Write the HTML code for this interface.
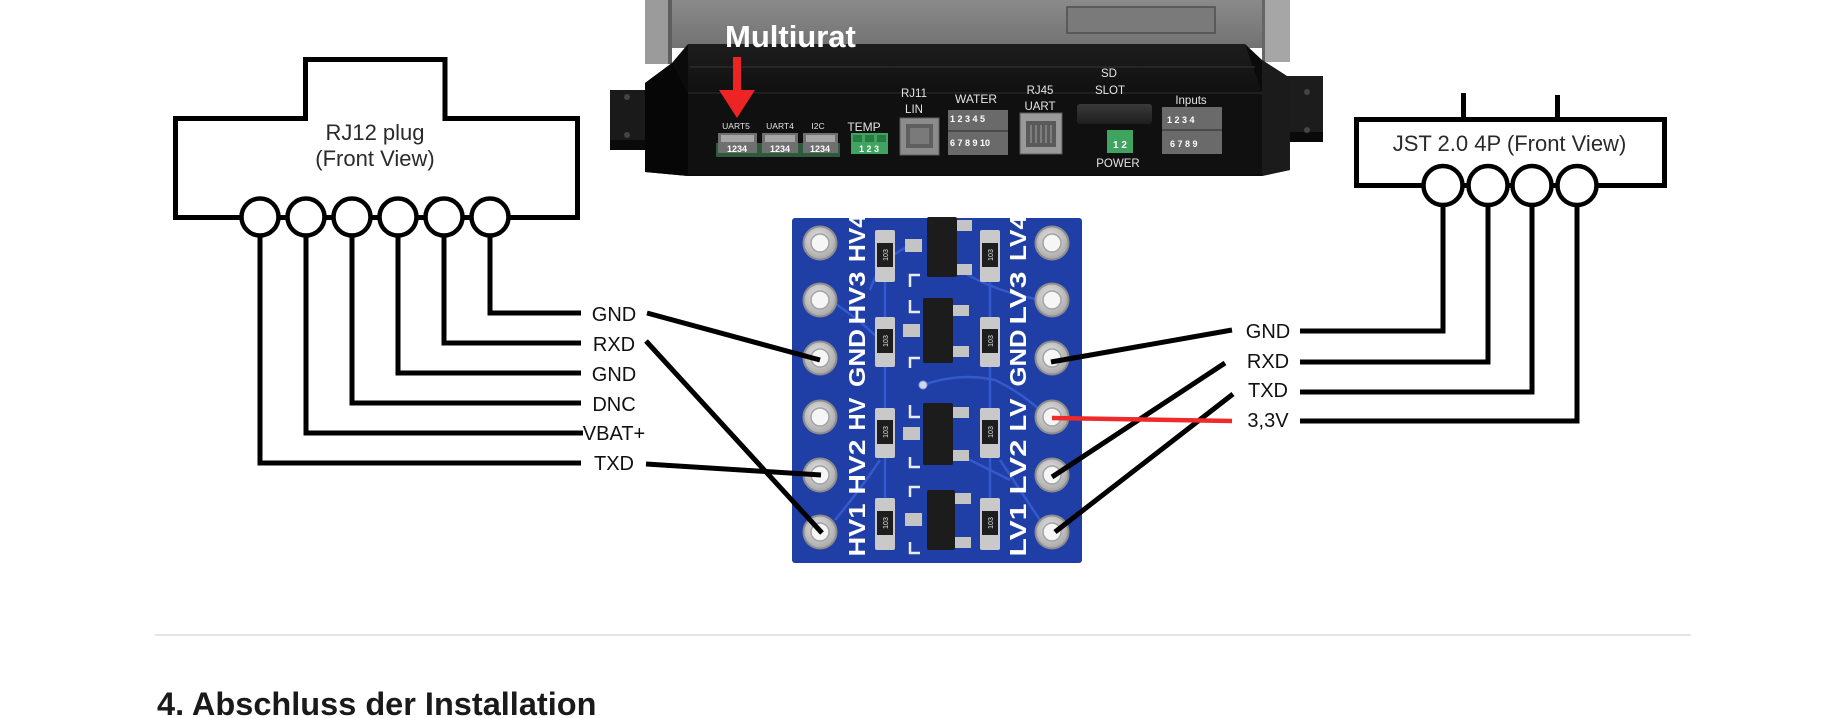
<!DOCTYPE html>
<html>
<head>
<meta charset="utf-8">
<style>
  html,body{margin:0;padding:0;background:#ffffff;}
  body{width:1840px;height:718px;overflow:hidden;}
  svg{display:block;}
  text{font-family:"Liberation Sans",Arial,sans-serif;}
</style>
</head>
<body>
<svg width="1840" height="718" viewBox="0 0 1840 718" xmlns="http://www.w3.org/2000/svg">
  <defs>
    <linearGradient id="topbody" x1="0" y1="0" x2="0" y2="1">
      <stop offset="0" stop-color="#8a8a8a"/>
      <stop offset="1" stop-color="#727272"/>
    </linearGradient>
    <linearGradient id="chamfer" x1="0" y1="0" x2="0" y2="1">
      <stop offset="0" stop-color="#1d1d1d"/>
      <stop offset="1" stop-color="#101010"/>
    </linearGradient>
    <linearGradient id="sd" x1="0" y1="0" x2="0" y2="1">
      <stop offset="0" stop-color="#3a3a3a"/>
      <stop offset="1" stop-color="#1e1e1e"/>
    </linearGradient>
    <radialGradient id="padg" cx="0.45" cy="0.4" r="0.6">
      <stop offset="0" stop-color="#e8e8e8"/>
      <stop offset="1" stop-color="#a8a8a8"/>
    </radialGradient>
  </defs>

  <!-- ================= DEVICE PHOTO ================= -->
  <!-- upper grey body -->
  <rect x="645" y="0" width="645" height="48" fill="url(#topbody)"/>
  <rect x="645" y="0" width="27" height="64" fill="#9b9b9b"/>
  <rect x="668" y="0" width="4" height="64" fill="#5e5e5e"/>
  <rect x="1262" y="0" width="28" height="62" fill="#a6a6a6"/>
  <rect x="1262" y="0" width="3" height="62" fill="#666"/>
  <rect x="1067" y="7" width="148" height="26" fill="#7a7a7a" stroke="#4e4e4e" stroke-width="1.5"/>

  <!-- flanges -->
  <rect x="610" y="90" width="40" height="60" fill="#1a1a1a"/>
  <rect x="610" y="140" width="40" height="10" fill="#0a0a0a"/>
  <circle cx="627" cy="97" r="3" fill="#444"/>
  <circle cx="627" cy="135" r="3" fill="#444"/>
  <rect x="1286" y="76" width="37" height="66" fill="#1c1c1c"/>
  <rect x="1286" y="132" width="37" height="10" fill="#0a0a0a"/>
  <circle cx="1307" cy="92" r="3" fill="#444"/>
  <circle cx="1307" cy="130" r="3" fill="#444"/>

  <!-- black base -->
  <polygon points="688,44 1245,44 1262,60 1290,78 1290,170 1262,176 688,176 645,172 645,83 672,63" fill="#0b0b0b"/>
  <polygon points="688,44 1245,44 1262,93 688,93" fill="url(#chamfer)"/>
  <line x1="690" y1="67" x2="1255" y2="67" stroke="#2c2c2c" stroke-width="1.5"/>
  <line x1="688" y1="93" x2="1262" y2="93" stroke="#252525" stroke-width="1.5"/>
  <rect x="688" y="94" width="574" height="80" fill="#101010"/>
  <polygon points="645,83 672,63 688,93 688,176 645,172" fill="#060606"/>
  <polygon points="1262,60 1290,78 1290,170 1262,176" fill="#1b1b1b"/>

  <!-- Multiurat label -->
  <text x="725" y="47" font-size="31" font-weight="bold" fill="#ffffff">Multiurat</text>

  <!-- red arrow -->
  <rect x="733" y="57" width="8" height="36" fill="#ee2424"/>
  <polygon points="719,90 755,90 737,118" fill="#ee2424"/>

  <!-- small port labels -->
  <g fill="#e4e4e4" text-anchor="middle">
    <text x="736" y="129" font-size="8.5">UART5</text>
    <text x="780" y="129" font-size="8.5">UART4</text>
    <text x="818" y="129" font-size="8.5">I2C</text>
    <text x="864" y="131" font-size="12">TEMP</text>
    <text x="914" y="97" font-size="11.5">RJ11</text>
    <text x="914" y="113" font-size="11.5">LIN</text>
    <text x="976" y="103" font-size="12">WATER</text>
    <text x="1040" y="94" font-size="11.5">RJ45</text>
    <text x="1040" y="110" font-size="11.5">UART</text>
    <text x="1109" y="77" font-size="11.5">SD</text>
    <text x="1110" y="94" font-size="11.5">SLOT</text>
    <text x="1118" y="167" font-size="11.5">POWER</text>
    <text x="1191" y="104" font-size="11.5">Inputs</text>
  </g>

  <!-- small JST connectors -->
  <rect x="716" y="143" width="124" height="14" fill="#2d5a3c"/>
  <g>
    <rect x="718" y="133" width="39" height="20" fill="#6f6f6f"/>
    <rect x="721" y="135" width="33" height="7" fill="#a5a5a5"/>
    <rect x="762" y="133" width="36" height="20" fill="#6f6f6f"/>
    <rect x="765" y="135" width="30" height="7" fill="#a5a5a5"/>
    <rect x="803" y="133" width="35" height="20" fill="#6f6f6f"/>
    <rect x="806" y="135" width="29" height="7" fill="#a5a5a5"/>
  </g>
  <g fill="#ffffff" font-size="9" font-weight="bold" text-anchor="middle">
    <text x="737" y="152">1234</text>
    <text x="780" y="152">1234</text>
    <text x="820" y="152">1234</text>
  </g>
  <!-- TEMP green -->
  <rect x="851" y="133" width="37" height="21" fill="#3fa45f"/>
  <rect x="853" y="135" width="9" height="7" fill="#2a7a45"/>
  <rect x="865" y="135" width="9" height="7" fill="#2a7a45"/>
  <rect x="877" y="135" width="9" height="7" fill="#2a7a45"/>
  <text x="869" y="152" font-size="9" font-weight="bold" fill="#fff" text-anchor="middle">1 2 3</text>
  <!-- RJ11 jack -->
  <rect x="900" y="118" width="39" height="37" fill="#8c8c8c" stroke="#5e5e5e" stroke-width="1"/>
  <rect x="906" y="124" width="27" height="24" fill="#5f5f5f"/>
  <rect x="910" y="128" width="19" height="16" fill="#7a7a7a"/>
  <!-- WATER block -->
  <rect x="948" y="110" width="60" height="45" fill="#6a6a6a"/>
  <line x1="948" y1="131" x2="1008" y2="131" stroke="#4a4a4a" stroke-width="2"/>
  <g fill="#ffffff" font-size="9" font-weight="bold">
    <text x="950" y="122">1 2 3 4 5</text>
    <text x="950" y="146">6 7 8 9 10</text>
  </g>
  <!-- RJ45 jack -->
  <rect x="1020" y="113" width="42" height="41" fill="#9a9a9a" stroke="#5a5a5a" stroke-width="1"/>
  <rect x="1026" y="121" width="30" height="26" fill="#5a5a5a"/>
  <g stroke="#8a8a8a" stroke-width="1.5">
    <line x1="1031" y1="125" x2="1031" y2="143"/>
    <line x1="1036" y1="125" x2="1036" y2="143"/>
    <line x1="1041" y1="125" x2="1041" y2="143"/>
    <line x1="1046" y1="125" x2="1046" y2="143"/>
    <line x1="1051" y1="125" x2="1051" y2="143"/>
  </g>
  <!-- SD slot -->
  <rect x="1077" y="104" width="75" height="20" rx="3" fill="url(#sd)"/>
  <!-- power green -->
  <rect x="1107" y="130" width="26" height="23" fill="#3fa45f"/>
  <text x="1120" y="148" font-size="10" font-weight="bold" fill="#fff" text-anchor="middle">1 2</text>
  <!-- Inputs block -->
  <rect x="1162" y="107" width="60" height="47" fill="#6a6a6a"/>
  <line x1="1162" y1="130" x2="1222" y2="130" stroke="#4a4a4a" stroke-width="2"/>
  <g fill="#ffffff" font-size="9" font-weight="bold">
    <text x="1167" y="123">1 2 3 4</text>
    <text x="1170" y="147">6 7 8 9</text>
  </g>

  <!-- ================= RJ12 PLUG ================= -->
  <path d="M175.5,217.5 V118.5 H305.5 V59.5 H445 V118.5 H577.5 V217.5 Z" fill="#fff" stroke="#000" stroke-width="5" stroke-linejoin="miter"/>
  <g fill="#2a2a2a" font-size="22" text-anchor="middle">
    <text x="375" y="140">RJ12 plug</text>
    <text x="375" y="166">(Front View)</text>
  </g>
  <!-- wires -->
  <g fill="none" stroke="#000" stroke-width="5" stroke-linejoin="miter">
    <path d="M490,230 V313 H581"/>
    <path d="M444,230 V343 H581"/>
    <path d="M398,230 V373 H581"/>
    <path d="M352,230 V403 H581"/>
    <path d="M306,230 V433 H583"/>
    <path d="M260,230 V463 H581"/>
  </g>
  <g fill="#fff" stroke="#000" stroke-width="4.5">
    <circle cx="260" cy="217" r="18.5"/>
    <circle cx="306" cy="217" r="18.5"/>
    <circle cx="352" cy="217" r="18.5"/>
    <circle cx="398" cy="217" r="18.5"/>
    <circle cx="444" cy="217" r="18.5"/>
    <circle cx="490" cy="217" r="18.5"/>
  </g>
  <g fill="#111" font-size="20" text-anchor="middle">
    <text x="614" y="321">GND</text>
    <text x="614" y="351">RXD</text>
    <text x="614" y="381">GND</text>
    <text x="614" y="411">DNC</text>
    <text x="614" y="440">VBAT+</text>
    <text x="614" y="470">TXD</text>
  </g>

  <!-- ================= JST 2.0 4P ================= -->
  <line x1="1463.5" y1="93" x2="1463.5" y2="120" stroke="#000" stroke-width="5"/>
  <line x1="1557.5" y1="95" x2="1557.5" y2="120" stroke="#000" stroke-width="5"/>
  <rect x="1356.5" y="119.5" width="308" height="66" fill="#fff" stroke="#000" stroke-width="5"/>
  <text x="1509.5" y="151" font-size="22" fill="#2a2a2a" text-anchor="middle">JST 2.0 4P (Front View)</text>
  <g fill="none" stroke="#000" stroke-width="5" stroke-linejoin="miter">
    <path d="M1443,200 V331 H1300"/>
    <path d="M1488,200 V362 H1300"/>
    <path d="M1532,200 V392 H1300"/>
    <path d="M1577,200 V421 H1300"/>
  </g>
  <g fill="#fff" stroke="#000" stroke-width="4.5">
    <circle cx="1443" cy="185.5" r="19.5"/>
    <circle cx="1488" cy="185.5" r="19.5"/>
    <circle cx="1532" cy="185.5" r="19.5"/>
    <circle cx="1577" cy="185.5" r="19.5"/>
  </g>
  <g fill="#111" font-size="20" text-anchor="middle">
    <text x="1268" y="338">GND</text>
    <text x="1268" y="368">RXD</text>
    <text x="1268" y="397">TXD</text>
    <text x="1268" y="427">3,3V</text>
  </g>

  <!-- ================= LEVEL SHIFTER PCB ================= -->
  <rect x="792" y="218" width="290" height="345" rx="3" fill="#1f3fa6"/>
  <!-- traces -->
  <g fill="none" stroke="#3359cc" stroke-width="2.5">
    <path d="M885,282 V317"/>
    <path d="M885,367 V408"/>
    <path d="M885,458 V498"/>
    <path d="M990,282 V317"/>
    <path d="M990,367 V408"/>
    <path d="M990,458 V498"/>
    <path d="M923,385 Q960,372 995,380 Q1020,392 1040,410"/>
    <path d="M960,270 Q990,290 1040,300"/>
    <path d="M830,300 Q860,320 880,340"/>
    <path d="M880,460 Q860,490 835,520"/>
    <path d="M1000,460 Q1020,490 1040,520"/>
    <path d="M960,455 Q990,470 1010,480"/>
    <path d="M905,248 Q880,260 870,290"/>
  </g>
  <!-- via -->
  <circle cx="923" cy="385" r="4" fill="#cfd6ea" stroke="#8da0d8" stroke-width="1"/>
  <!-- silkscreen brackets -->
  <g fill="none" stroke="#e8ecf7" stroke-width="2.5">
    <path d="M920,275 H910 V287"/>
    <path d="M910,300 V312 H920"/>
    <path d="M920,358 H910 V368"/>
    <path d="M910,405 V417 H920"/>
    <path d="M910,457 V467 H920"/>
    <path d="M920,487 H910 V497"/>
    <path d="M910,542 V553 H920"/>
  </g>
  <!-- transistors (SOT-23) -->
  <g>
    <rect x="905" y="239" width="17" height="13" fill="#c4c4c4"/>
    <rect x="956" y="220" width="16" height="11" fill="#c4c4c4"/>
    <rect x="956" y="264" width="16" height="11" fill="#c4c4c4"/>
    <rect x="927" y="217" width="30" height="60" rx="2" fill="#1c1c1c"/>

    <rect x="903" y="324" width="17" height="13" fill="#c4c4c4"/>
    <rect x="953" y="305" width="16" height="11" fill="#c4c4c4"/>
    <rect x="953" y="346" width="16" height="11" fill="#c4c4c4"/>
    <rect x="923" y="298" width="30" height="65" rx="2" fill="#1c1c1c"/>

    <rect x="903" y="427" width="17" height="13" fill="#c4c4c4"/>
    <rect x="953" y="407" width="16" height="11" fill="#c4c4c4"/>
    <rect x="953" y="450" width="16" height="11" fill="#c4c4c4"/>
    <rect x="923" y="403" width="30" height="62" rx="2" fill="#1c1c1c"/>

    <rect x="905" y="513" width="17" height="13" fill="#c4c4c4"/>
    <rect x="955" y="493" width="16" height="11" fill="#c4c4c4"/>
    <rect x="955" y="537" width="16" height="11" fill="#c4c4c4"/>
    <rect x="927" y="490" width="28" height="60" rx="2" fill="#1c1c1c"/>
  </g>
  <!-- resistors -->
  <g>
    <rect x="875" y="230" width="20" height="52" rx="2" fill="#c9c9c9"/>
    <rect x="877" y="243" width="16" height="24" fill="#1e1e1e"/>
    <rect x="875" y="317" width="20" height="50" rx="2" fill="#c9c9c9"/>
    <rect x="877" y="329" width="16" height="24" fill="#1e1e1e"/>
    <rect x="875" y="408" width="20" height="50" rx="2" fill="#c9c9c9"/>
    <rect x="877" y="420" width="16" height="24" fill="#1e1e1e"/>
    <rect x="875" y="498" width="20" height="52" rx="2" fill="#c9c9c9"/>
    <rect x="877" y="511" width="16" height="24" fill="#1e1e1e"/>

    <rect x="980" y="230" width="20" height="52" rx="2" fill="#c9c9c9"/>
    <rect x="982" y="243" width="16" height="24" fill="#1e1e1e"/>
    <rect x="980" y="317" width="20" height="50" rx="2" fill="#c9c9c9"/>
    <rect x="982" y="329" width="16" height="24" fill="#1e1e1e"/>
    <rect x="980" y="408" width="20" height="50" rx="2" fill="#c9c9c9"/>
    <rect x="982" y="420" width="16" height="24" fill="#1e1e1e"/>
    <rect x="980" y="498" width="20" height="52" rx="2" fill="#c9c9c9"/>
    <rect x="982" y="511" width="16" height="24" fill="#1e1e1e"/>
  </g>
  <g fill="#e0e0e0" font-size="7" text-anchor="middle">
    <text transform="translate(888,255) rotate(-90)">103</text>
    <text transform="translate(888,341) rotate(-90)">103</text>
    <text transform="translate(888,432) rotate(-90)">103</text>
    <text transform="translate(888,523) rotate(-90)">103</text>
    <text transform="translate(993,255) rotate(-90)">103</text>
    <text transform="translate(993,341) rotate(-90)">103</text>
    <text transform="translate(993,432) rotate(-90)">103</text>
    <text transform="translate(993,523) rotate(-90)">103</text>
  </g>
  <!-- pads -->
  <g>
    <g fill="url(#padg)" stroke="#8d8d8d" stroke-width="2">
      <circle cx="820" cy="243" r="16.5"/>
      <circle cx="820" cy="300" r="16.5"/>
      <circle cx="820" cy="358" r="16.5"/>
      <circle cx="820" cy="417" r="16.5"/>
      <circle cx="820" cy="475" r="16.5"/>
      <circle cx="820" cy="532" r="16.5"/>
      <circle cx="1052" cy="243" r="16.5"/>
      <circle cx="1052" cy="300" r="16.5"/>
      <circle cx="1052" cy="358" r="16.5"/>
      <circle cx="1052" cy="417" r="16.5"/>
      <circle cx="1052" cy="475" r="16.5"/>
      <circle cx="1052" cy="532" r="16.5"/>
    </g>
    <g fill="#f6f6f6" stroke="#a2a2a2" stroke-width="1.5">
      <circle cx="820" cy="243" r="9"/>
      <circle cx="820" cy="300" r="9"/>
      <circle cx="820" cy="358" r="9"/>
      <circle cx="820" cy="417" r="9"/>
      <circle cx="820" cy="475" r="9"/>
      <circle cx="820" cy="532" r="9"/>
      <circle cx="1052" cy="243" r="9"/>
      <circle cx="1052" cy="300" r="9"/>
      <circle cx="1052" cy="358" r="9"/>
      <circle cx="1052" cy="417" r="9"/>
      <circle cx="1052" cy="475" r="9"/>
      <circle cx="1052" cy="532" r="9"/>
    </g>
  </g>
  <!-- pcb labels -->
  <g fill="#ffffff" font-size="23" font-weight="bold" text-anchor="middle">
    <text transform="translate(865,238) rotate(-90)" textLength="48" lengthAdjust="spacingAndGlyphs">HV4</text>
    <text transform="translate(865,298) rotate(-90)" textLength="53" lengthAdjust="spacingAndGlyphs">HV3</text>
    <text transform="translate(865,358) rotate(-90)" textLength="58" lengthAdjust="spacingAndGlyphs">GND</text>
    <text transform="translate(865,414) rotate(-90)" textLength="33" lengthAdjust="spacingAndGlyphs">HV</text>
    <text transform="translate(865,467) rotate(-90)" textLength="55" lengthAdjust="spacingAndGlyphs">HV2</text>
    <text transform="translate(865,530) rotate(-90)" textLength="53" lengthAdjust="spacingAndGlyphs">HV1</text>

    <text transform="translate(1026,238) rotate(-90)" textLength="46" lengthAdjust="spacingAndGlyphs">LV4</text>
    <text transform="translate(1026,298) rotate(-90)" textLength="53" lengthAdjust="spacingAndGlyphs">LV3</text>
    <text transform="translate(1026,358) rotate(-90)" textLength="57" lengthAdjust="spacingAndGlyphs">GND</text>
    <text transform="translate(1026,415) rotate(-90)" textLength="33" lengthAdjust="spacingAndGlyphs">LV</text>
    <text transform="translate(1026,467) rotate(-90)" textLength="55" lengthAdjust="spacingAndGlyphs">LV2</text>
    <text transform="translate(1026,530) rotate(-90)" textLength="53" lengthAdjust="spacingAndGlyphs">LV1</text>
  </g>

  <!-- ================= CONNECTION LINES ================= -->
  <g stroke="#000" stroke-width="5" stroke-linecap="butt" fill="none">
    <line x1="647" y1="313" x2="820" y2="360"/>
    <line x1="646" y1="341" x2="822" y2="533"/>
    <line x1="646" y1="464" x2="821" y2="475"/>
    <line x1="1051" y1="362" x2="1232" y2="330"/>
    <line x1="1052" y1="477" x2="1225" y2="363"/>
    <line x1="1055" y1="532" x2="1233" y2="394"/>
  </g>
  <line x1="1052" y1="418" x2="1232" y2="421" stroke="#f02a2a" stroke-width="4.5"/>

  <!-- ================= FOOTER ================= -->
  <rect x="155" y="634" width="1536" height="2" fill="#e3e5ea"/>
  <text x="157" y="715" font-size="32.5" font-weight="bold" fill="#1a1a1a">4. Abschluss der Installation</text>
</svg>
</body>
</html>
